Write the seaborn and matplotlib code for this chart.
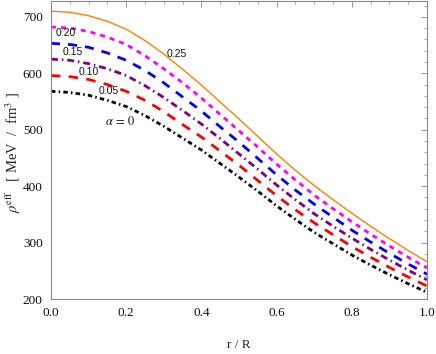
import numpy as np
import pandas as pd
import matplotlib
matplotlib.use("Agg")
import matplotlib.pyplot as plt
import seaborn as sns
from matplotlib.ticker import MultipleLocator

# ---- data ----
r = [0.00, 0.05, 0.10, 0.15, 0.20, 0.25, 0.30, 0.35, 0.40, 0.45, 0.50,
     0.55, 0.60, 0.65, 0.70, 0.75, 0.80, 0.85, 0.90, 0.95, 1.00]
rho_a025 = [710, 708, 702, 692, 678, 658, 634, 607, 579, 549, 519,
            488, 457, 428, 401, 376, 352, 329, 307, 286, 266]
rho_a020 = [682, 680, 674, 664, 651, 631, 608, 583, 556, 527, 498,
            469, 439, 411, 384, 360, 337, 315, 294, 274, 255]
rho_a015 = [653, 651, 646, 636, 623, 605, 583, 558, 533, 505, 478,
            449, 420, 393, 368, 345, 322, 301, 281, 262, 244]
rho_a010 = [625, 623, 617, 608, 596, 578, 557, 534, 510, 484, 457,
            430, 402, 376, 351, 329, 308, 288, 269, 251, 234]
rho_a005 = [596, 594, 589, 580, 568, 552, 532, 509, 487, 462, 437,
            410, 383, 358, 335, 314, 293, 274, 256, 239, 223]
rho_a000 = [568, 566, 561, 552, 541, 525, 506, 485, 464, 440, 416,
            391, 365, 341, 318, 298, 278, 260, 243, 227, 212]

alphas = ["0.25", "0.20", "0.15", "0.10", "0.05", "0"]
series = [rho_a025, rho_a020, rho_a015, rho_a010, rho_a005, rho_a000]
xticks = [0.0, 0.2, 0.4, 0.6, 0.8, 1.0]
yticks = [200, 300, 400, 500, 600, 700]

# ---- style ----
sns.set_theme(style="white")
plt.rcParams["font.family"] = ["Liberation Serif", "DejaVu Serif"]
plt.rcParams["mathtext.fontset"] = "stix"
plt.rcParams["lines.scale_dashes"] = False

colors = ["#FF8000", "#FF00FF", "#0000FF", "#800080", "#FF0000", "#000000"]
styles = ["-", (0, (3.6, 3.6)), (0, (6.5, 5.8)), (0, (5, 2.8, 1.1, 2.8)),
          (0, (6.8, 6.0)), (0, (3.2, 2.3, 1.1, 2.3))]
widths = [1.0, 2.0, 2.0, 2.0, 2.0, 2.0]

fig = plt.figure(figsize=(4.36, 3.54), dpi=100)
ax = fig.add_axes([51/436, 55/354, 376/436, 298/354])

df = pd.DataFrame({"r": r})
for a, s in zip(alphas, series):
    df[a] = s

for a, c, ls, lw in zip(alphas, colors, styles, widths):
    sns.lineplot(data=df, x="r", y=a, color=c, linestyle=ls, linewidth=lw,
                 ax=ax, legend=False)

ax.set_xlim(0, 1.0)
ax.set_ylim(200, 728)
ax.set_xticks(xticks)
ax.set_yticks(yticks)
ax.set_xticklabels([f"{v:.1f}" for v in xticks])
ax.set_yticklabels([str(v) for v in yticks])
ax.xaxis.set_minor_locator(MultipleLocator(0.05))
ax.yaxis.set_minor_locator(MultipleLocator(20))
ax.tick_params(which="both", direction="in", top=True, right=True,
               color="#888888", labelsize=9.5, labelcolor="#111111")
ax.tick_params(which="major", length=4.5, width=0.6, pad=6)
ax.tick_params(which="minor", length=2.5, width=0.5)
for sp in ax.spines.values():
    sp.set_color("#888888")
    sp.set_linewidth(0.8)

ax.set_xlabel("r / R", fontsize=9.5, labelpad=14)
ax.set_ylabel(r"$\rho^{\mathrm{eff}}$   [ MeV  /  fm$^{3}$ ]", fontsize=10.5)
ax.yaxis.set_label_coords(-0.075, 0.49)

lab_font = dict(fontsize=7.5, family=["Liberation Sans", "DejaVu Sans"],
                ha="center", va="center", color="#111111")
ax.text(0.335, 634, "0.25", **lab_font)
ax.text(0.040, 672, "0.20", **lab_font)
ax.text(0.059, 637, "0.15", **lab_font)
ax.text(0.101, 603, "0.10", **lab_font)
ax.text(0.154, 568, "0.05", **lab_font)
ax.text(0.184, 514, r"$\alpha\,=\,0$", fontsize=9, ha="center", va="center",
        color="#111111")

fig.savefig("out.png", dpi=100)
